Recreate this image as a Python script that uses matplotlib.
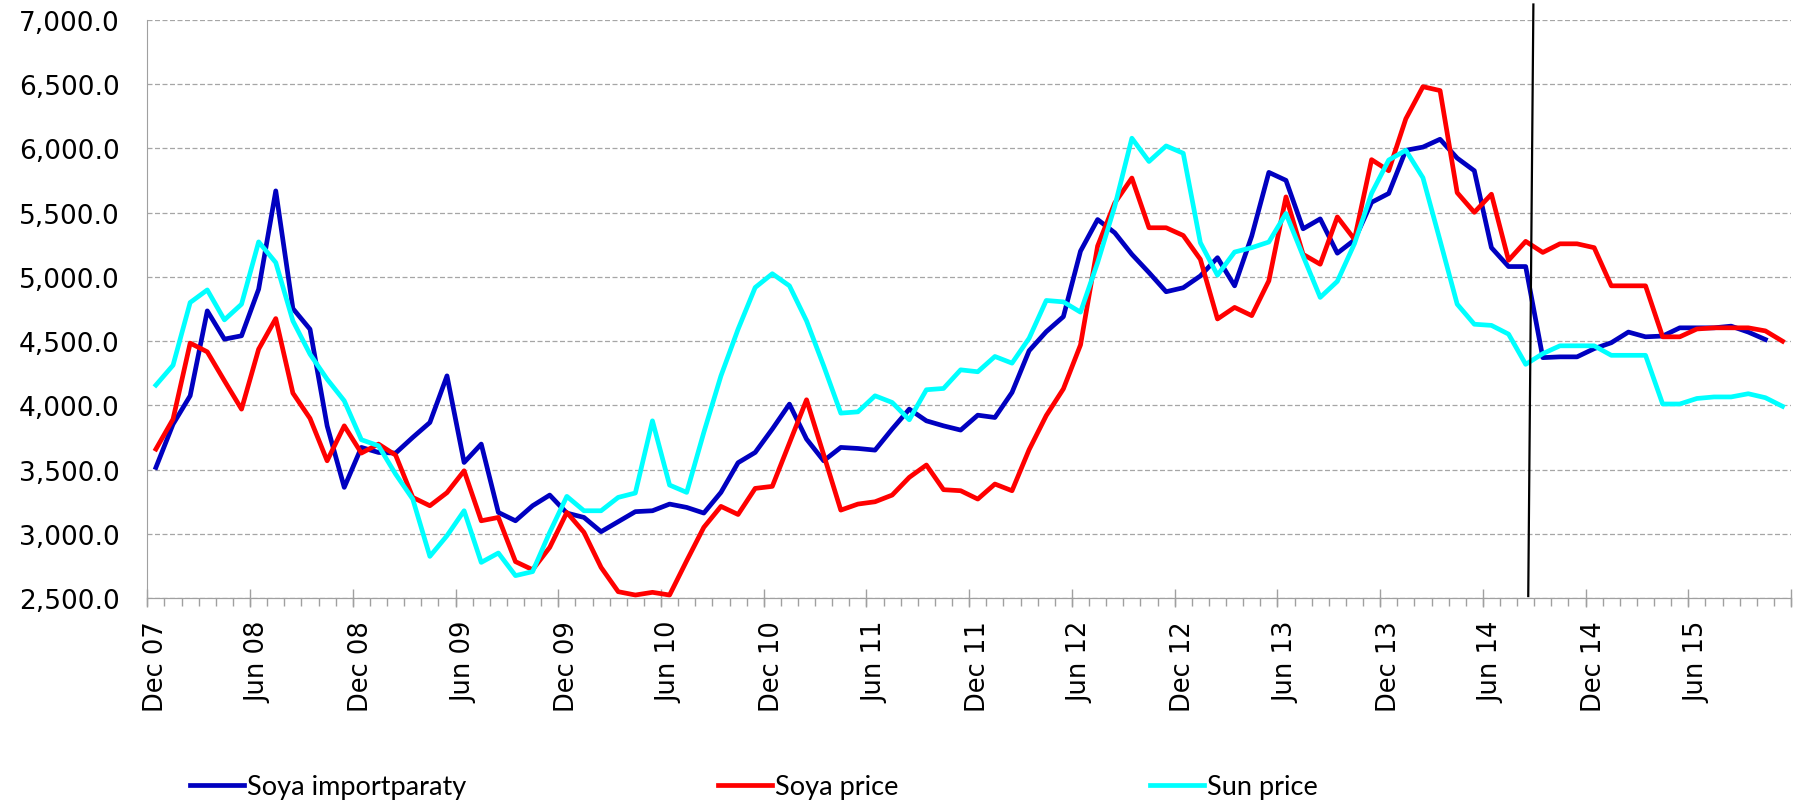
import numpy as np
import matplotlib
matplotlib.use("Agg")
import matplotlib.pyplot as plt
from matplotlib.ticker import FuncFormatter

# monthly, Dec 2007 .. Nov 2015
soya_importparaty = [
    3516, 3853, 4074, 4735, 4515, 4541, 4904, 5669, 4753, 4592, 3840, 3361,
    3672, 3633, 3628, 3750, 3866, 4229, 3555, 3698, 3166, 3101, 3218, 3301,
    3161, 3127, 3016, 3094, 3172, 3179, 3231, 3205, 3161, 3322, 3553, 3633,
    3815, 4009, 3737, 3568, 3672, 3664, 3651, 3815, 3970, 3879, 3840, 3807,
    3923, 3905, 4100, 4425, 4573, 4690, 5200, 5446, 5343, 5175, 5033, 4884,
    4915, 5007, 5149, 4930, 5317, 5813, 5751, 5374, 5451, 5184, 5287, 5580,
    5649, 5985, 6010, 6071, 5924, 5826, 5227, 5080, 5080, 4371, 4377, 4377,
    4441, 4487, 4570, 4533, 4539, 4603, 4603, 4603, 4616, 4570, 4512, np.nan,
]
soya_price = [
    3659, 3892, 4484, 4416, 4191, 3970, 4437, 4675, 4095, 3898, 3568, 3840,
    3628, 3698, 3612, 3283, 3218, 3320, 3490, 3101, 3127, 2783, 2720, 2894,
    3166, 3011, 2738, 2549, 2523, 2544, 2523, 2790, 3050, 3213, 3150, 3353,
    3369, 3706, 4043, 3615, 3184, 3231, 3249, 3301, 3439, 3535, 3343, 3335,
    3270, 3387, 3335, 3655, 3920, 4128, 4470, 5240, 5575, 5769, 5382, 5382,
    5322, 5136, 4672, 4762, 4698, 4969, 5622, 5175, 5098, 5466, 5292, 5912,
    5826, 6230, 6480, 6450, 5655, 5502, 5643, 5129, 5276, 5190, 5257, 5257,
    5227, 4930, 4930, 4930, 4533, 4533, 4594, 4603, 4603, 4603, 4579, 4499,
]
sun_price = [
    4157, 4312, 4800, 4898, 4665, 4787, 5272, 5111, 4657, 4398, 4203, 4035,
    3732, 3685, 3464, 3270, 2824, 2985, 3179, 2777, 2850, 2674, 2705, 3011,
    3291, 3179, 3179, 3283, 3317, 3879, 3379, 3322, 3789, 4229, 4592, 4917,
    5024, 4930, 4657, 4307, 3939, 3949, 4074, 4022, 3887, 4121, 4131, 4276,
    4261, 4380, 4328, 4522, 4816, 4805, 4725, 5111, 5549, 6079, 5898, 6019,
    5962, 5266, 5013, 5193, 5227, 5271, 5493, 5162, 4840, 4965, 5258, 5650,
    5909, 5985, 5771, 5282, 4787, 4631, 4622, 4554, 4319, 4402, 4463, 4463,
    4463, 4389, 4389, 4389, 4010, 4010, 4053, 4065, 4065, 4090, 4059, 3992,
]
tick_labels = ["Dec 07", "Jun 08", "Dec 08", "Jun 09", "Dec 09", "Jun 10",
               "Dec 10", "Jun 11", "Dec 11", "Jun 12", "Dec 12", "Jun 13",
               "Dec 13", "Jun 14", "Dec 14", "Jun 15"]
marker_month = 80.3  # vertical separator, around Aug/Sep 14

n = len(soya_price)
x = np.arange(n)

fig = plt.figure(figsize=(17.97, 8.04), dpi=100)
ax = fig.add_axes([0.082, 0.255, 0.9147, 0.719])

ax.plot(x, soya_importparaty, color="#0000C0", lw=3.4, label="Soya importparaty")
ax.plot(x, soya_price, color="#FF0000", lw=3.4, label="Soya price")
ax.plot(x, sun_price, color="#00FFFF", lw=3.4, label="Sun price")

ax.plot([marker_month + 0.15, marker_month - 0.15], [7120, 2515],
        color="black", lw=1.6, clip_on=False)

ax.set_xlim(-0.5, n - 0.5)
ax.set_ylim(2500, 7000)
ax.set_yticks(np.arange(2500, 7001, 500))
ax.yaxis.set_major_formatter(FuncFormatter(lambda v, p: f"{v:,.1f}"))
ax.tick_params(axis="y", length=0, pad=20, labelsize=19)
ax.yaxis.grid(True, color="#A6A6A6", lw=0.9, linestyle=(0, (4, 2)))
ax.set_axisbelow(True)

ax.set_xticks(np.arange(0, n, 6), tick_labels, rotation=90)
ax.set_xticks(np.arange(-0.5, n, 1), minor=True)
ax.tick_params(axis="x", which="major", length=0, pad=16, labelsize=18.5)
ax.tick_params(axis="x", which="minor", length=6, width=1, color="#A0A0A0",
               direction="out")
for lab in ax.get_xticklabels():
    lab.set_va("top")

sec = ax.secondary_xaxis("bottom")
sec.set_xticks(np.arange(-0.5, n, 6))
sec.tick_params(length=13, width=1, color="#A0A0A0", direction="inout",
                labelbottom=False)
sec.spines["bottom"].set_color("#A0A0A0")

for s in ["top", "right"]:
    ax.spines[s].set_visible(False)
ax.spines["left"].set_color("#A0A0A0")
ax.spines["bottom"].set_color("#A0A0A0")

fig.legend(loc="center left", bbox_to_anchor=(190 / 1797, 1 - 788 / 804),
           ncol=3, frameon=False, borderpad=0, borderaxespad=0,
           handlelength=2.0, handletextpad=0.1, columnspacing=9.3,
           prop={"family": "Lato", "size": 19.5})

fig.savefig("out.png", dpi=100)
